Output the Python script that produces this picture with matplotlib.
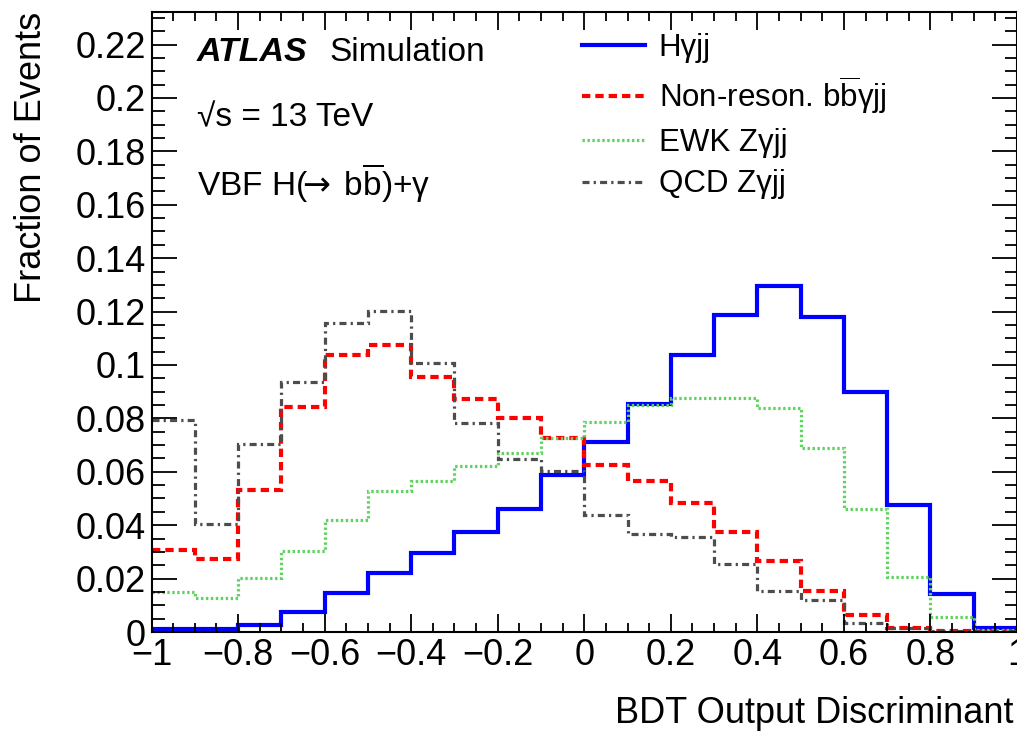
import numpy as np
import matplotlib
matplotlib.use('Agg')
import matplotlib.pyplot as plt
from matplotlib.ticker import MultipleLocator, FuncFormatter

plt.rcParams['font.family'] = ['Liberation Sans', 'DejaVu Sans']
plt.rcParams['mathtext.fontset'] = 'custom'
plt.rcParams['mathtext.rm'] = 'Liberation Sans'
plt.rcParams['mathtext.it'] = 'Liberation Sans:italic'
plt.rcParams['mathtext.bf'] = 'Liberation Sans:bold'
plt.rcParams['mathtext.sf'] = 'DejaVu Sans'

# BDT score bins, 20 bins of 0.1 from -1 to 1
bin_edges = [-1.0, -0.9, -0.8, -0.7, -0.6, -0.5, -0.4, -0.3, -0.2, -0.1, 0.0,
             0.1, 0.2, 0.3, 0.4, 0.5, 0.6, 0.7, 0.8, 0.9, 1.0]

# normalised distributions (fraction of events per bin)
h_gamma_jj = [0.0010, 0.0010, 0.0026, 0.0076, 0.0147, 0.0220, 0.0297, 0.0376, 0.0460, 0.0588,
              0.0713, 0.0853, 0.1037, 0.1186, 0.1296, 0.1179, 0.0898, 0.0474, 0.0142, 0.0014]
nonres_bb = [0.0307, 0.0273, 0.0532, 0.0844, 0.1037, 0.1073, 0.0954, 0.0872, 0.0800, 0.0728,
             0.0625, 0.0567, 0.0482, 0.0376, 0.0267, 0.0155, 0.0064, 0.0014, 0.0003, 0.0003]
ewk_z = [0.0151, 0.0129, 0.0201, 0.0305, 0.0420, 0.0529, 0.0566, 0.0623, 0.0669, 0.0728,
         0.0788, 0.0850, 0.0878, 0.0878, 0.0838, 0.0688, 0.0460, 0.0207, 0.0057, 0.0007]
qcd_z = [0.0794, 0.0403, 0.0704, 0.0938, 0.1156, 0.1204, 0.1009, 0.0782, 0.0647, 0.0604,
         0.0440, 0.0366, 0.0357, 0.0253, 0.0154, 0.0120, 0.0032, 0.0014, 0.0004, 0.0004]

labels = ['H\u03b3jj', 'Non-reson. b$\\overline{\\mathrm{b}}$\u03b3jj', 'EWK Z\u03b3jj', 'QCD Z\u03b3jj']

fig = plt.figure(figsize=(10.17, 7.36), dpi=100)
ax = fig.add_axes([0.149, 0.1413, 0.851, 0.8424])

ax.stairs(h_gamma_jj, bin_edges, baseline=None, color='#0000ff', lw=3.0, label=labels[0])
ax.stairs(nonres_bb, bin_edges, baseline=None, color='#ff0000', lw=3.0,
          linestyle=(0, (2.0, 1.2)), label=labels[1])
ax.stairs(ewk_z, bin_edges, baseline=None, color='#5fd35f', lw=2.3,
          linestyle=(0, (0.75, 0.8)), label=labels[2])
ax.stairs(qcd_z, bin_edges, baseline=None, color='#4d4d4d', lw=2.3,
          linestyle=(0, (2.2, 1.3, 0.7, 1.3)), label=labels[3])

ax.set_xlim(-1, 1)
ax.set_ylim(0, 0.2322)

fmt = FuncFormatter(lambda v, p: ('%g' % round(v, 4)).replace('-', '\u2212'))
ax.xaxis.set_major_locator(MultipleLocator(0.2))
ax.xaxis.set_minor_locator(MultipleLocator(0.05))
ax.yaxis.set_major_locator(MultipleLocator(0.02))
ax.yaxis.set_minor_locator(MultipleLocator(0.005))
ax.xaxis.set_major_formatter(fmt)
ax.yaxis.set_major_formatter(fmt)

ax.tick_params(which='both', direction='in', top=True, right=True, width=1.3, labelsize=26)
ax.tick_params(axis='x', which='major', length=13, pad=4)
ax.tick_params(axis='x', which='minor', length=6.5)
ax.tick_params(axis='y', which='major', length=18, pad=4)
ax.tick_params(axis='y', which='minor', length=9)
for s in ax.spines.values():
    s.set_linewidth(1.5)

ax.set_xlabel('BDT Output Discriminant', fontsize=26, ha='right', va='top')
ax.xaxis.set_label_coords(0.996, -0.104)
ax.set_ylabel('Fraction of Events', fontsize=26, ha='right', va='bottom')
ax.yaxis.set_label_coords(-0.119, 1.0)

ax.text(0.0526, 0.935, 'ATLAS', transform=ax.transAxes, fontsize=24.5,
        fontweight='bold', fontstyle='italic', va='center')
ax.text(0.206, 0.935, 'Simulation', transform=ax.transAxes, fontsize=24, va='center')
ax.text(0.0526, 0.83, '\u221as = 13 TeV', transform=ax.transAxes, fontsize=24, va='center')
ax.text(0.0526, 0.724, 'VBF H($\\!\\!\\mathsf{\\rightarrow}\\;$b$\\overline{\\mathrm{b}}$)+\u03b3',
        transform=ax.transAxes, fontsize=24, va='center')

ax.legend(loc='upper left', bbox_to_anchor=(0.4977, 0.966), frameon=False, fontsize=22.5,
          borderpad=0, borderaxespad=0, handlelength=2.0, handletextpad=0.45,
          labelspacing=0.37)

fig.savefig('out.png', dpi=100)
